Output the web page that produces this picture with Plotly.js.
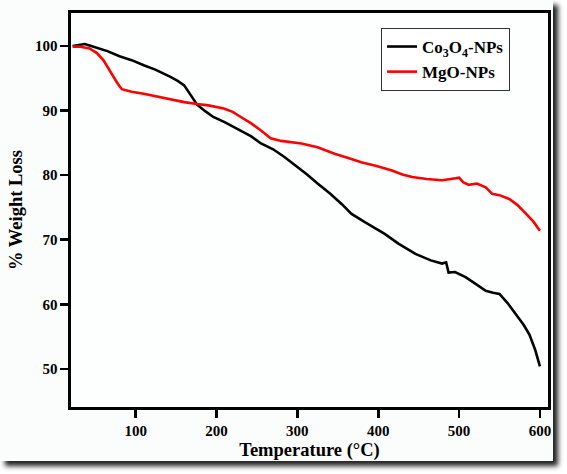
<!DOCTYPE html>
<html><head><meta charset="utf-8">
<script src="https://cdn.plot.ly/plotly-3.0.1.min.js"></script>
<style>
html,body{margin:0;padding:0;background:#ffffff;}
#wrap{position:absolute;left:0;top:0;width:553px;height:461px;background:#fbfcfc;box-shadow:5px 5px 5px #222;}
#chart{width:553px;height:461px;}
</style></head><body>
<div id="wrap"><div id="chart"></div></div>
<script>
const coTemp = [22, 30, 37, 45, 55, 65, 80, 95, 110, 125, 143, 152, 160, 168, 176, 186, 196, 210, 230, 243, 255, 270, 284, 300, 312, 325, 340, 355, 367, 385, 408, 425, 446, 465, 479, 484, 487, 495, 508, 520, 533, 542, 550, 560, 570, 580, 587, 594, 600];
const coWeight = [100.0, 100.1, 100.3, 100.0, 99.6, 99.2, 98.4, 97.8, 97.0, 96.3, 95.2, 94.6, 93.9, 92.4, 90.9, 89.9, 89.0, 88.2, 86.9, 86.0, 84.9, 84.0, 82.8, 81.3, 80.1, 78.7, 77.2, 75.5, 74.0, 72.6, 70.9, 69.4, 67.8, 66.8, 66.3, 66.5, 64.9, 65.0, 64.2, 63.2, 62.1, 61.8, 61.6, 60.2, 58.5, 56.8, 55.3, 53.0, 50.4];
const mgTemp = [22, 30, 43, 52, 60, 66, 72, 78, 83, 95, 110, 125, 143, 160, 176, 190, 209, 220, 230, 243, 255, 267, 280, 305, 325, 346, 362, 379, 398, 417, 430, 442, 460, 479, 490, 500, 505, 512, 522, 533, 541, 550, 562, 572, 583, 592, 600];
const mgWeight = [99.9, 99.9, 99.6, 98.9, 97.8, 96.5, 95.2, 94.1, 93.3, 92.9, 92.6, 92.2, 91.8, 91.3, 91.0, 90.8, 90.3, 89.8, 89.0, 88.0, 86.9, 85.7, 85.3, 84.9, 84.3, 83.3, 82.7, 82.0, 81.4, 80.7, 80.1, 79.7, 79.4, 79.2, 79.4, 79.6, 78.9, 78.5, 78.7, 78.1, 77.1, 76.9, 76.3, 75.4, 74.0, 72.8, 71.4];

const font = 'Liberation Serif';
const data = [
  {x: coTemp, y: coWeight, type: 'scatter', mode: 'lines', name: 'Co<sub>3</sub>O<sub>4</sub>-NPs',
   line: {color: '#000000', width: 2.6}},
  {x: mgTemp, y: mgWeight, type: 'scatter', mode: 'lines', name: 'MgO-NPs',
   line: {color: '#ff0000', width: 2.6}}
];
const axisCommon = {
  showline: true, linecolor: '#000', linewidth: 2.6, mirror: true,
  ticks: 'outside', ticklen: 8, tickwidth: 2.6, tickcolor: '#000',
  showgrid: false, zeroline: false,
  tickfont: {family: font, size: 15, color: '#000', weight: 700}
};
const layout = {
  width: 553, height: 461,
  margin: {l: 71, r: 5, t: 13, b: 54},
  paper_bgcolor: 'rgba(0,0,0,0)', plot_bgcolor: '#fdfefe',
  showlegend: true,
  legend: {x: 0.65, y: 0.962, xanchor: 'left', yanchor: 'top',
    bgcolor: '#ffffff', bordercolor: '#333', borderwidth: 1,
    font: {family: font, size: 17, color: '#000', weight: 700},
    tracegroupgap: 2},
  xaxis: Object.assign({}, axisCommon, {
    range: [20, 610], tickvals: [100, 200, 300, 400, 500, 600],
    title: {text: 'Temperature (°C)', font: {family: font, size: 18.5, color: '#000', weight: 700}, standoff: 8}
  }),
  yaxis: Object.assign({}, axisCommon, {
    range: [44.1, 105.1], tickvals: [50, 60, 70, 80, 90, 100],
    title: {text: '% Weight Loss', font: {family: font, size: 18.5, color: '#000', weight: 700}, standoff: 8}
  })
};
Plotly.newPlot('chart', data, layout, {displayModeBar: false, staticPlot: true});
</script></body></html>
